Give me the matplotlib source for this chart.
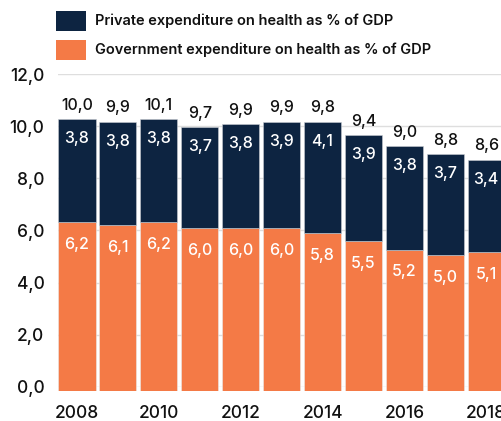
import matplotlib
matplotlib.use("Agg")
import matplotlib.pyplot as plt
from matplotlib.patches import Rectangle

years = [2008, 2009, 2010, 2011, 2012, 2013, 2014, 2015, 2016, 2017, 2018]
government = [6.2, 6.1, 6.2, 6.0, 6.0, 6.0, 5.8, 5.5, 5.2, 5.0, 5.1]
private = [3.8, 3.8, 3.8, 3.7, 3.8, 3.9, 4.1, 3.9, 3.8, 3.7, 3.4]
totals = [10.0, 9.9, 10.1, 9.7, 9.9, 9.9, 9.8, 9.4, 9.0, 8.8, 8.6]
y_ticks = [0, 2, 4, 6, 8, 10, 12]
x_tick_years = [2008, 2010, 2012, 2014, 2016, 2018]

navy = "#0d2441"
orange = "#f47a46"

plt.rcParams["font.family"] = ["Inter", "DejaVu Sans"]

W, H = 502, 421
fig = plt.figure(figsize=(W / 100, H / 100), dpi=100)


def fx(px):
    return px / W


def fy(px):
    return 1 - px / H


# grid / tick axes (0 at 386.5px, 12 at 74.5px)
left_px, right_px = 58.3, 502
ax = fig.add_axes([fx(left_px), fy(386.5), fx(right_px - left_px), (386.5 - 74.5) / H])
xs = list(range(len(years)))
xlim = (-0.455, 10.385)
ax.set_xlim(*xlim)
ax.set_ylim(0, 12)
ax.set_yticks(y_ticks)
ax.set_yticklabels([f"{v:.1f}".replace(".", ",") for v in y_ticks])
ax.grid(axis="y", color="#dedede", linewidth=1)
ax.set_axisbelow(True)
for s in ax.spines.values():
    s.set_visible(False)
ax.tick_params(axis="y", length=0, pad=10, labelsize=12.5, labelcolor="#111111")
ax.set_xticks([years.index(y) for y in x_tick_years])
ax.set_xticklabels([str(y) for y in x_tick_years])
ax.tick_params(axis="x", length=0, pad=13, labelsize=12.5, labelcolor="#111111")
for lab in ax.get_yticklabels() + ax.get_xticklabels():
    lab.set_fontweight("medium")

# bars axes (baseline at 391px, 27.2 px per unit, as in the source chart)
px_per_unit = 27.2
bx = fig.add_axes([fx(left_px), fy(391), fx(right_px - left_px), (391 - 74.5) / H])
bx.set_xlim(*xlim)
bx.set_ylim(0, (391 - 74.5) / px_per_unit)
bx.axis("off")
bx.patch.set_alpha(0)

bx.bar(xs, government, width=0.91, color=orange, edgecolor="#e9e9e9", linewidth=0.4)
bx.bar(xs, private, width=0.91, bottom=government, color=navy, edgecolor="#c8ccd2", linewidth=0.4)

for i in xs:
    g, p, t = government[i], private[i], totals[i]
    top = g + p
    bx.annotate(f"{t:.1f}".replace(".", ","), (i, top), xytext=(0, 10), textcoords="offset points",
                ha="center", va="center", fontsize=11.5, fontweight="medium", color="#111111")
    bx.annotate(f"{p:.1f}".replace(".", ","), (i, top), xytext=(0, -14), textcoords="offset points",
                ha="center", va="center", fontsize=11.5, fontweight="medium", color="white")
    bx.annotate(f"{g:.1f}".replace(".", ","), (i, g), xytext=(0, -16), textcoords="offset points",
                ha="center", va="center", fontsize=11.5, fontweight="medium", color="white")

# legend
fig.patches.append(Rectangle((fx(56), fy(31)), fx(30), 20 / H, transform=fig.transFigure,
                             facecolor=navy, edgecolor="none"))
fig.patches.append(Rectangle((fx(56), fy(60)), fx(30), 20 / H, transform=fig.transFigure,
                             facecolor=orange, edgecolor="none"))
fig.text(fx(95), fy(21), "Private expenditure on health as % of GDP", ha="left", va="center",
         fontsize=10.5, fontweight="semibold", color="#111111")
fig.text(fx(95), fy(50), "Government expenditure on health as % of GDP", ha="left", va="center",
         fontsize=10.5, fontweight="semibold", color="#111111")

fig.savefig("out.png", dpi=100)
